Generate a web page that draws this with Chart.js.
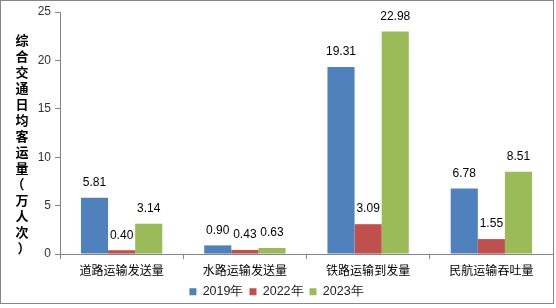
<!DOCTYPE html>
<html>
<head>
<meta charset="utf-8">
<script src="https://cdn.jsdelivr.net/npm/chart.js@4"></script>
<style>
  html, body { margin: 0; padding: 0; background: #fff; }
  #wrap { width: 556px; height: 308px; }
</style>
</head>
<body>
<div id="wrap"><canvas id="chart" width="556" height="308"></canvas></div>
<script>
var categories = ["道路运输发送量", "水路运输发送量", "铁路运输到发量", "民航运输吞吐量"];
var series2019 = [5.81, 0.90, 19.31, 6.78];
var series2022 = [0.40, 0.43, 3.09, 1.55];
var series2023 = [3.14, 0.63, 22.98, 8.51];
var yTicks = [0, 5, 10, 15, 20, 25];
var yTitle = "综合交通日均客运量（万人次）";

var numFont = "'Liberation Sans', Arial, sans-serif";
var cjkFont = "'Noto Sans CJK SC', sans-serif";

// white background + outer frame
var frame = {
    id: 'frame',
    beforeDraw: function(chart) {
        var ctx = chart.ctx;
        ctx.save();
        ctx.fillStyle = '#fff';
        ctx.fillRect(0, 0, chart.width, chart.height);
        ctx.strokeStyle = '#868686';
        ctx.lineWidth = 1;
        ctx.strokeRect(0.5, 0.5, 553, 303);
        ctx.restore();
    }
};

// vertical stacked y-axis title, one char per row
var stackedTitle = {
    id: 'stackedTitle',
    afterDraw: function(chart) {
        var ctx = chart.ctx;
        ctx.save();
        ctx.font = "bold 13px " + cjkFont;
        ctx.fillStyle = '#000';
        ctx.textAlign = 'center';
        ctx.textBaseline = 'middle';
        var chars = Array.from(yTitle);
        for (var i = 0; i < chars.length; i++) {
            var dx = 0;
            if (chars[i] === '（') dx = -4;   // full-width paren glyphs sit off-centre
            if (chars[i] === '）') dx = 2;
            ctx.fillText(chars[i], 22 + dx, 40 + i * 16);
        }
        ctx.restore();
    }
};

// value labels above bars
var valueLabels = {
    id: 'valueLabels',
    afterDatasetsDraw: function(chart) {
        var ctx = chart.ctx;
        ctx.save();
        ctx.font = "12px " + numFont;
        ctx.fillStyle = '#000';
        ctx.textAlign = 'center';
        ctx.textBaseline = 'middle';
        chart.data.datasets.forEach(function(ds, di) {
            chart.getDatasetMeta(di).data.forEach(function(bar, i) {
                ctx.fillText(ds.data[i].toFixed(2), bar.x, bar.y - 15);
            });
        });
        ctx.restore();
    }
};

var chart = new Chart(document.getElementById('chart'), {
    type: 'bar',
    data: {
        labels: categories,
        datasets: [
            { label: '2019年', data: series2019, backgroundColor: '#4F81BD' },
            { label: '2022年', data: series2022, backgroundColor: '#C0504D' },
            { label: '2023年', data: series2023, backgroundColor: '#9BBB59' }
        ]
    },
    options: {
        responsive: false,
        animation: false,
        categoryPercentage: 0.66,
        barPercentage: 1.0,
        layout: { padding: { top: 12, right: 3, left: 0, bottom: 0 } },
        plugins: {
            legend: {
                position: 'bottom',
                labels: {
                    boxWidth: 7,
                    boxHeight: 7,
                    padding: 6,
                    color: '#222',
                    font: { family: numFont, size: 12.5 },
                    generateLabels: function(chart) {
                        return chart.data.datasets.map(function(ds, i) {
                            return { text: ds.label, fillStyle: ds.backgroundColor, strokeStyle: ds.backgroundColor, lineWidth: 0, datasetIndex: i, fontColor: '#222' };
                        });
                    }
                }
            },
            tooltip: { enabled: false }
        },
        scales: {
            x: {
                afterFit: function(scale) { scale.height = scale.height - 2; },
                grid: { display: true, drawOnChartArea: false, drawTicks: true, tickLength: 5, color: '#868686', offset: true },
                border: { display: true, color: '#868686' },
                ticks: { color: '#000', padding: 4, font: { family: cjkFont, size: 12 }, maxRotation: 0 }
            },
            y: {
                min: 0,
                max: 25,
                afterFit: function(scale) { scale.width = 60; },
                afterBuildTicks: function(scale) {
                    scale.ticks = yTicks.map(function(v) { return { value: v }; });
                },
                grid: { display: true, drawOnChartArea: false, drawTicks: true, tickLength: 5, color: '#868686' },
                border: { display: true, color: '#868686' },
                ticks: { color: '#333', padding: 4, font: { family: numFont, size: 12 } }
            }
        }
    },
    plugins: [frame, stackedTitle, valueLabels]
});
</script>
</body>
</html>
